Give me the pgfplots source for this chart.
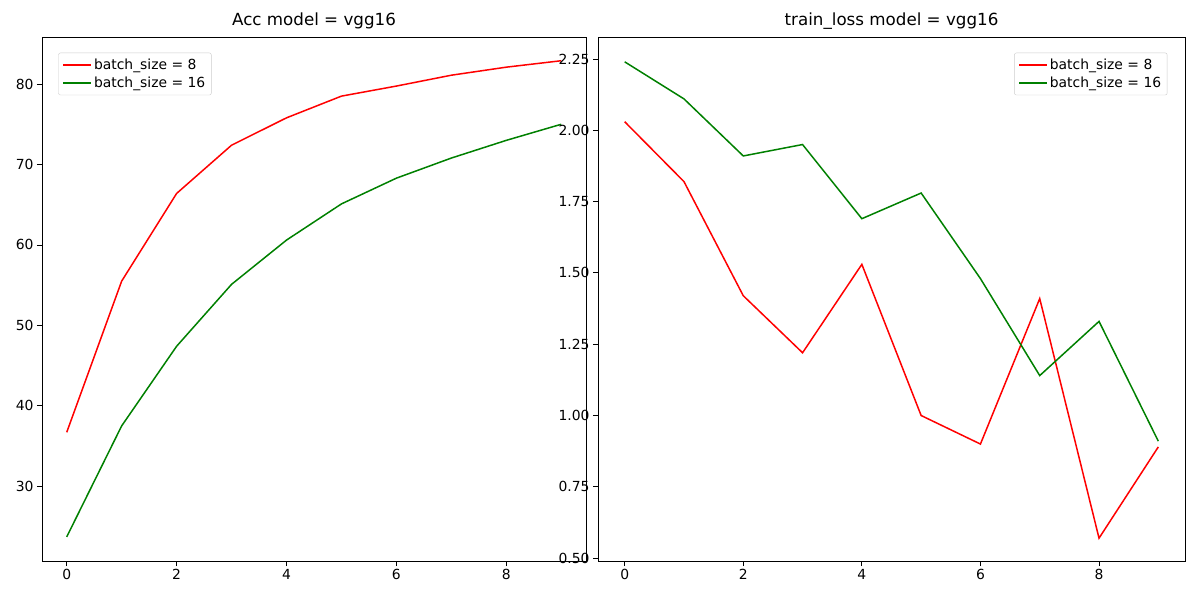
\documentclass[border=0pt]{standalone}
\usepackage{pgfplots}
\pgfplotsset{compat=1.18}
\usepackage{fontspec}
\setmainfont{DejaVu Sans}
\begin{document}
\begin{tikzpicture}[x=1pt,y=1pt]
\path[use as bounding box] (0,0) rectangle (1200,600);
\pgfplotsset{myax/.style={scale only axis, height=524pt,
  tick label style={font=\fontsize{13.9}{16}\selectfont},
  /pgf/number format/assume math mode=true,
  title style={font=\fontsize{16.7}{19}\selectfont, yshift=-2pt},
  legend style={font=\fontsize{13.9}{16}\selectfont, draw=black!20, rounded corners=2pt, row sep=2pt, inner sep=4pt},
  legend cell align=left,
  legend image code/.code={\draw[#1, line width=1.5pt] (0pt,0pt) -- (28pt,0pt);},
  xmin=-0.45, xmax=9.45, xtick={0,2,...,8},
  xtick pos=bottom, ytick pos=left,
  tick align=outside, tick style={black, line width=0.8pt}, major tick length=5pt,
  axis line style={black, line width=0.8pt}}}
\begin{axis}[myax, at={(42pt,39pt)}, anchor=south west, width=544pt,
  title={Acc model = vgg16}, ymin=20.7, ymax=85.85, ytick={30,40,...,80},
  legend pos=north west]
\addplot[red, line width=1.5pt, no marks] coordinates {(0,36.7)(1,55.5)(2,66.4)(3,72.4)(4,75.8)(5,78.5)(6,79.75)(7,81.1)(8,82.1)(9,82.9)};
\addlegendentry{batch\_size = 8}
\addplot[green!50!black, line width=1.5pt, no marks] coordinates {(0,23.7)(1,37.5)(2,47.4)(3,55.1)(4,60.6)(5,65.1)(6,68.3)(7,70.8)(8,73.0)(9,75.0)};
\addlegendentry{batch\_size = 16}
\end{axis}
\begin{axis}[myax, at={(598pt,39pt)}, anchor=south west, width=587pt,
  title={train\_loss model = vgg16}, ymin=0.49, ymax=2.327, ytick={0.5,0.75,...,2.25},
  yticklabel style={/pgf/number format/.cd, fixed, fixed zerofill, precision=2},
  legend pos=north east]
\addplot[red, line width=1.5pt, no marks] coordinates {(0,2.03)(1,1.82)(2,1.42)(3,1.22)(4,1.53)(5,1.00)(6,0.90)(7,1.41)(8,0.57)(9,0.89)};
\addlegendentry{batch\_size = 8}
\addplot[green!50!black, line width=1.5pt, no marks] coordinates {(0,2.24)(1,2.11)(2,1.91)(3,1.95)(4,1.69)(5,1.78)(6,1.48)(7,1.14)(8,1.33)(9,0.91)};
\addlegendentry{batch\_size = 16}
\end{axis}
\end{tikzpicture}
\end{document}
